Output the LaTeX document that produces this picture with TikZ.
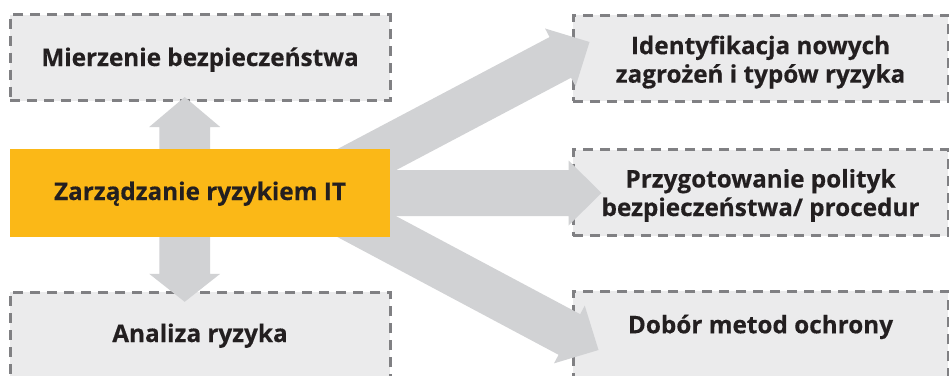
\documentclass[tikz,border=0pt]{standalone}
\usepackage{fontspec}
\setmainfont{Open Sans}[BoldFeatures={FakeBold=0.35}]
\usetikzlibrary{calc}

\definecolor{boxfill}{HTML}{EBEBEC}
\definecolor{boxline}{HTML}{808083}
\definecolor{arrowgray}{HTML}{D1D2D4}
\definecolor{riskorange}{HTML}{FBB817}
\definecolor{ink}{HTML}{231F20}

\pgfdeclarelayer{back}
\pgfdeclarelayer{mid}
\pgfsetlayers{back,mid,main}

% broad block arrow: start, tip, half shaft width, half head width, head length
\newcommand\fatarrow[5]{%
  \path ($(#2)!#5!(#1)$) coordinate (fa-base);
  \fill[arrowgray] ($(#1)!#3!90:(#2)$) -- ($(fa-base)!#3!90:(#2)$)
    -- ($(fa-base)!#4!90:(#2)$) -- (#2) -- ($(fa-base)!#4!-90:(#2)$)
    -- ($(fa-base)!#3!-90:(#2)$) -- ($(#1)!#3!-90:(#2)$) -- cycle;}

\tikzset{
  label font/.style={font=\fontsize{24.3}{28.5}\selectfont\bfseries, text=ink,
    align=center, text height=17pt},
  dashbox/.style={label font, fill=boxfill, draw=boxline, line width=3pt,
    dash pattern=on 10pt off 7pt, inner sep=0pt},
  leftbox/.style={dashbox, minimum width=380pt, minimum height=86pt},
  rightbox/.style={dashbox, minimum width=375pt, minimum height=86pt},
  riskbox/.style={label font, fill=riskorange, inner sep=0pt,
    minimum width=380pt, minimum height=88pt},
}

\begin{document}
\begin{tikzpicture}[x=1pt, y=-1pt]
  \clip (0,0) rectangle (949,375);

  \begin{pgfonlayer}{back}
    \fill[white] (0,0) rectangle (949,375);
    \node[leftbox, text depth=0pt]  (measure)  at (200,57.5)  {Mierzenie bezpieczeństwa};
    \node[leftbox, text depth=3pt]  (analysis) at (200,335)   {Analiza ryzyka};
    \node[rightbox, text height=60pt, text depth=10.6pt] (ident) at (760.5,58)
      {Identyfikacja nowych\\zagrożeń i typów ryzyka};
    \node[rightbox, text height=60pt, text depth=13pt] (policy) at (760.5,192.5)
      {Przygotowanie polityk\\bezpieczeństwa/ procedur};
    \node[rightbox, text depth=18.4pt] (protect) at (760.5,334) {Dobór metod ochrony};
  \end{pgfonlayer}

  \node[riskbox, text depth=3pt] (risk) at (200,193) {Zarządzanie ryzykiem IT};

  \begin{pgfonlayer}{mid}
    % vertical arrows
    \coordinate (up-s)   at ($(risk.north)+(-15.3,11)$);
    \coordinate (up-e)   at ($(measure.south)+(-15.3,-5)$);
    \coordinate (down-s) at ($(risk.south)+(-15.3,-11)$);
    \coordinate (down-e) at ($(analysis.north)+(-15.3,11.3)$);
    \fatarrow{up-s}{up-e}{25.4pt}{35.5pt}{30pt}
    \fatarrow{down-s}{down-e}{25.4pt}{35.5pt}{28pt}
    % arrows to the right-hand boxes
    \coordinate (ident-s)   at ($(risk.center)+(130,-14)$);
    \coordinate (ident-e)   at ($(ident.west)+(18,-16)$);
    \coordinate (policy-s)  at ($(risk.east)+(-10,0)$);
    \coordinate (policy-e)  at ($(policy.west)+(30,0.5)$);
    \coordinate (protect-s) at ($(risk.center)+(130,14)$);
    \coordinate (protect-e) at ($(protect.west)+(27,16)$);
    \fatarrow{ident-s}{ident-e}{23pt}{32.7pt}{33pt}
    \fatarrow{policy-s}{policy-e}{23pt}{32.5pt}{33pt}
    \fatarrow{protect-s}{protect-e}{23pt}{32.7pt}{33pt}
  \end{pgfonlayer}
\end{tikzpicture}
\end{document}
